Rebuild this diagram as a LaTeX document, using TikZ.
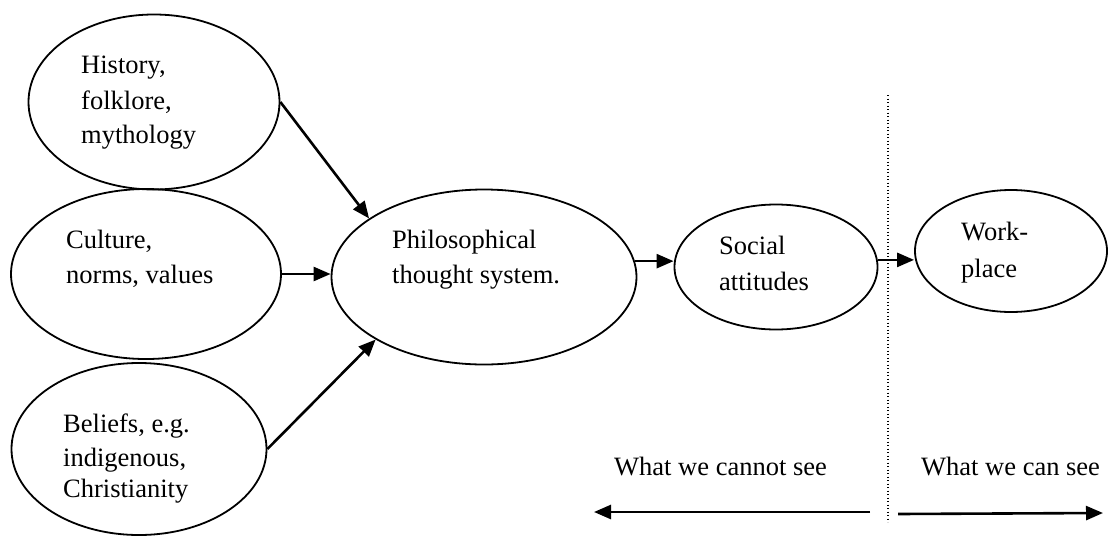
\documentclass[tikz,border=0pt]{standalone}
\usepackage{fontspec}
\setmainfont{Liberation Serif}
\usetikzlibrary{arrows.meta,shapes.geometric}
\tikzset{
  oval/.style={ellipse, draw, line width=1.8pt, inner sep=0pt},
  lbl/.style={anchor=base west, inner sep=0pt, font=\fontsize{26.5}{32}\selectfont},
  arr/.style={line width=2.6pt, -{Triangle[length=17pt,width=14pt]}},
  divider/.style={line width=1.3pt, dash pattern=on 1.3pt off 2.2pt}
}
\begin{document}
\begin{tikzpicture}[x=1pt,y=-1pt]
\useasboundingbox (0,0) rectangle (1108,536);
% ellipses
\node[oval, minimum width=251pt, minimum height=175pt] (E1) at (154,102) {};
\node[oval, minimum width=270pt, minimum height=170pt] (E2) at (146,274) {};
\node[oval, minimum width=255pt, minimum height=172pt] (E3) at (139,449) {};
\node[oval, minimum width=305pt, minimum height=175pt] (E4) at (484,277) {};
\node[oval, minimum width=203pt, minimum height=125pt] (E5) at (776,267) {};
\node[oval, minimum width=192pt, minimum height=122pt] (E6) at (1011,251) {};
% texts
\node[lbl] (t1a) at (81,73) {History,};
\node[lbl] (t1b) at (81,109) {folklore,};
\node[lbl] (t1c) at (81,143) {mythology};
\node[lbl] (t2a) at (66,248) {Culture,};
\node[lbl] (t2b) at (66,283) {norms, values};
\node[lbl] (t3a) at (63,432) {Beliefs, e.g.};
\node[lbl] (t3b) at (63,466) {indigenous,};
\node[lbl] (t3c) at (63,497) {Christianity};
\node[lbl] (t4a) at (392,248) {Philosophical};
\node[lbl] (t4b) at (392,283) {thought system.};
\node[lbl] (t5a) at (719,254) {Social};
\node[lbl] (t5b) at (719,290) {attitudes};
\node[lbl] (t6a) at (961,240) {Work-};
\node[lbl] (t6b) at (961,277) {place};
\node[lbl] (t7) at (614,475) {What we cannot see};
\node[lbl] (t8) at (921,475) {What we can see};
% connectors
\draw[arr] (E1.east) -- (E4.153);
\draw[arr] (E2.east) -- (E2.east -| E4.west);
\draw[arr] (E3.east) -- (E4.210);
\draw[arr] (E4.6) -- (E4.6 -| E5.west);
\draw[arr] (E5.4) -- (E5.4 -| E6.west);
% divider and bottom arrows
\coordinate (dtop) at (888,95);
\coordinate (dbot) at (888,522);
\draw[divider] (dtop) -- (dbot);
\coordinate (la) at (870,512);
\coordinate (lb) at (594,512);
\coordinate (ra) at (898,514);
\coordinate (rb) at (1103,513);
\draw[arr] (la) -- (lb);
\draw[arr] (ra) -- (rb);
\end{tikzpicture}
\end{document}
